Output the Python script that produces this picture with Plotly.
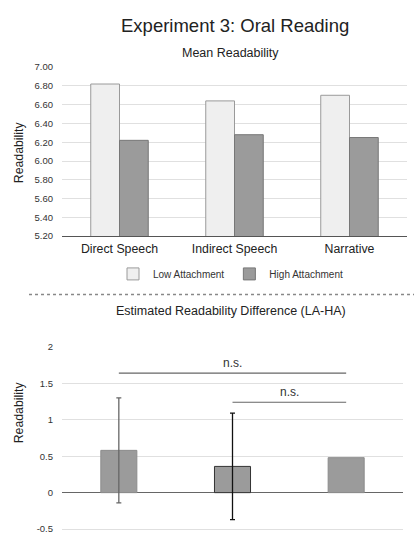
import plotly.graph_objects as go

# ---------------- data ----------------
categories = ["Direct Speech", "Indirect Speech", "Narrative"]
low_attachment = [6.82, 6.64, 6.70]
high_attachment = [6.22, 6.28, 6.25]

diff_values = [0.58, 0.36, 0.48]
diff_errors = [0.72, 0.73, 0.0]
diff_error_colors = ["#666666", "#111111", "#666666"]
diff_bar_lines = ["#8c8c8c", "#333333", "#8c8c8c"]

top_tick_vals = [5.2, 5.4, 5.6, 5.8, 6.0, 6.2, 6.4, 6.6, 6.8, 7.0]
bottom_tick_vals = [-0.5, 0, 0.5, 1, 1.5, 2]
bottom_tick_text = ["-0.5", "0", "0.5", "1", "1.5", "2"]

sig_pairs = [(0, 2), (1, 2)]
sig_levels = [1.64, 1.24]
sig_labels = ["n.s.", "n.s."]

W, H = 414, 538
FONT = "Liberation Sans, Arial, sans-serif"

def px_x(p):
    return p / W

def px_y(p):
    return (H - p) / H

fig = go.Figure()

fig.add_trace(go.Bar(
    x=categories, y=low_attachment, name="Low Attachment",
    marker=dict(color="#efefef", line=dict(color="#9a9a9a", width=1)),
    xaxis="x", yaxis="y",
))
fig.add_trace(go.Bar(
    x=categories, y=high_attachment, name="High Attachment",
    marker=dict(color="#9b9b9b", line=dict(color="#777777", width=1)),
    xaxis="x", yaxis="y",
))

bw = 0.317
for i, cat in enumerate(categories):
    err = diff_errors[i]
    fig.add_trace(go.Bar(
        x=[cat], y=[diff_values[i]], width=[bw], offset=-bw / 2,
        marker=dict(color="#9b9b9b", line=dict(color=diff_bar_lines[i], width=1)),
        error_y=dict(type="data", array=[err], visible=err > 0,
                     color=diff_error_colors[i], thickness=1.3, width=2.5),
        xaxis="x2", yaxis="y2", showlegend=False, hoverinfo="skip",
    ))

# significance brackets
annotations = []
shapes = []
for (a, b), lvl, lab in zip(sig_pairs, sig_levels, sig_labels):
    shapes.append(dict(type="line", xref="x2", yref="y2", x0=a, x1=b, y0=lvl, y1=lvl,
                       line=dict(color="#666666", width=1.2)))
    annotations.append(dict(xref="x2", yref="y2", x=(a + b) / 2, y=lvl, text=lab,
                            showarrow=False, yanchor="bottom", yshift=1,
                            font=dict(size=12, color="#333333", family=FONT)))

# dotted separator
shapes.append(dict(type="line", xref="paper", yref="paper", x0=px_x(29), x1=1.0,
                   y0=px_y(295), y1=px_y(295),
                   line=dict(color="#888888", width=1.5, dash="dot")))

# titles
annotations += [
    dict(xref="paper", yref="paper", x=px_x(235), y=px_y(21), text="Experiment 3: Oral Reading",
         showarrow=False, xanchor="center", yanchor="middle",
         font=dict(size=18.5, color="#222222", family=FONT)),
    dict(xref="paper", yref="paper", x=px_x(230), y=px_y(48.5), text="Mean Readability",
         showarrow=False, xanchor="center", yanchor="middle",
         font=dict(size=12.5, color="#222222", family=FONT)),
    dict(xref="paper", yref="paper", x=px_x(231), y=px_y(311.5),
         text="Estimated Readability Difference (LA-HA)",
         showarrow=False, xanchor="center", yanchor="middle",
         font=dict(size=12.5, color="#222222", family=FONT)),
    dict(xref="paper", yref="paper", x=px_x(19), y=px_y(150), text="Readability",
         showarrow=False, textangle=-90, xanchor="center", yanchor="middle",
         font=dict(size=12.3, color="#222222", family=FONT)),
    dict(xref="paper", yref="paper", x=px_x(19), y=px_y(415), text="Readability",
         showarrow=False, textangle=-90, xanchor="center", yanchor="middle",
         font=dict(size=12.3, color="#222222", family=FONT)),
]

grid = "#e0e0e0"
fig.update_layout(
    width=W, height=H,
    margin=dict(l=0, r=0, t=0, b=0),
    paper_bgcolor="white", plot_bgcolor="white",
    font=dict(family=FONT, color="#333333"),
    barmode="group", bargap=0.5, bargroupgap=0,
    showlegend=True,
    legend=dict(orientation="h", x=px_x(113), y=px_y(274), xanchor="left", yanchor="middle",
                font=dict(size=10, color="#333333", family=FONT),
                bgcolor="rgba(0,0,0,0)", itemwidth=30, traceorder="normal"),
    xaxis=dict(domain=[px_x(62), px_x(407)], anchor="y", type="category",
               showline=True, linecolor="#555555", linewidth=1.2,
               showgrid=False, ticks="", tickfont=dict(size=12.3, color="#222222"),
               ticklabelstandoff=1),
    yaxis=dict(domain=[px_y(235.5), px_y(62.8)], anchor="x", range=[5.2, 7.005],
               tickvals=top_tick_vals, tickformat=".2f",
               showgrid=True, gridcolor=grid, gridwidth=1, zeroline=False,
               showline=False, ticks="", tickfont=dict(size=9.5, color="#333333"),
               ticklabelstandoff=8),
    xaxis2=dict(domain=[px_x(62), px_x(403)], anchor="y2", type="category",
                categoryarray=categories, categoryorder="array",
                range=[-0.5, 2.5],
                showline=False, showgrid=False, ticks="", showticklabels=False),
    yaxis2=dict(domain=[px_y(535.5), px_y(347.6)], anchor="x2", range=[-0.52, 2.01],
                tickvals=bottom_tick_vals, ticktext=bottom_tick_text,
                showgrid=True, gridcolor=grid, gridwidth=1,
                zeroline=True, zerolinecolor="#666666", zerolinewidth=1.3,
                showline=False, ticks="", tickfont=dict(size=9.5, color="#333333"),
                ticklabelstandoff=8),
    annotations=annotations,
    shapes=shapes,
)

fig.write_html(
    "out.html",
    config={"displayModeBar": False},
    post_script="document.body.style.margin='0';document.body.style.padding='0';",
)
